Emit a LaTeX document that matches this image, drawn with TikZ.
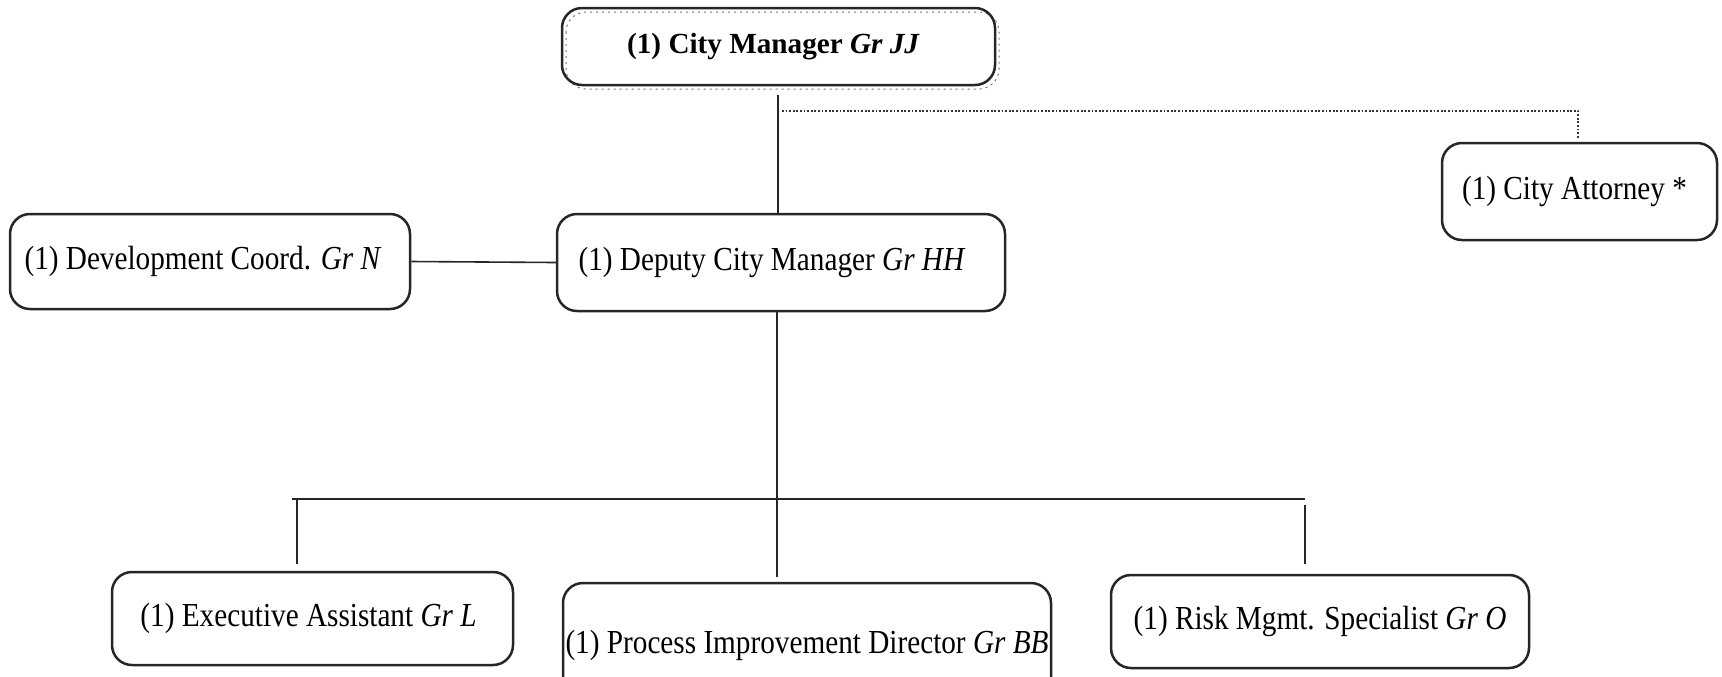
\documentclass[tikz,border=0pt]{standalone}
\usepackage{fontspec}
\setmainfont{Liberation Serif}
\newfontfamily\narrowfont[FakeStretch=0.87]{Liberation Serif}
\usetikzlibrary{calc}
\begin{document}
\begin{tikzpicture}[x=0.5pt,y=-0.5pt,
  box/.style={draw=black!85, line width=1.25pt, rounded corners=10pt,
    inner sep=0pt, align=center,
    font=\narrowfont\fontsize{16.8}{20}\selectfont},
  conn/.style={draw=black!85, line width=0.8pt},
  dotconn/.style={draw=black!80, line width=0.7pt, dash pattern=on 0.9pt off 0.9pt}]
\clip (0,0) rectangle (1722,676);

% faint second outline around the top box
\draw[black!55, line width=0.5pt, dash pattern=on 1pt off 2pt, rounded corners=10pt]
  (566,12) rectangle (999,89);

% positions
\node[box, minimum width=216.5pt, minimum height=38.5pt,
  font=\rmfamily\bfseries\fontsize{14.6}{18}\selectfont]
  (cm) at (778.5,46.5) {\raisebox{-3pt}{(1) City Manager \textit{Gr JJ}}\hspace*{5pt}};
\node[box, minimum width=224pt, minimum height=48.5pt]
  (dep) at (781,262.5) {(1) Deputy City Manager \textit{Gr HH}\hspace*{9pt}};
\node[box, minimum width=200pt, minimum height=47.5pt]
  (dev) at (210,261.5) {(1) Development Coord. \textit{Gr N}\hspace*{7pt}};
\node[box, minimum width=137.5pt, minimum height=48.5pt]
  (att) at (1579.5,191.5) {(1) City Attorney *\hspace*{5pt}};
\node[box, minimum width=200.5pt, minimum height=46.5pt]
  (exe) at (312.5,618.5) {\raisebox{-4.5pt}{(1) Executive Assistant \textit{Gr L}}\hspace*{4pt}};
\node[box, minimum width=244pt, minimum height=62pt]
  (pro) at (807,645) {(1) Process Improvement Director \textit{Gr BB}};
\node[box, minimum width=209pt, minimum height=46.5pt]
  (risk) at (1320,621.5) {\raisebox{-4pt}{(1) Risk Mgmt. Specialist \textit{Gr O}}};

% junction points of the connectors
\coordinate (cmdrop) at (778,95);
\coordinate (dotL) at (782,111);
\coordinate (dotR) at (1578,111);
\coordinate (busL) at (292,499);
\coordinate (busC) at (777,499);
\coordinate (busR) at (1305,499);

% connectors
\draw[conn] (cmdrop) -- (cmdrop |- dep.north);
\draw[dotconn] (dotL) -- (dotR) -- ($(dotR |- att.north)+(0,-3)$);
\draw[conn] (dev.east) -- (dep.west);
\draw[conn] (busC |- dep.south) -- (busC);
\draw[conn] (busL) -- (busR);
\draw[conn] (297,499) -- ($(297,0 |- exe.north)+(0,-7)$);
\draw[conn] (busC) -- ($(busC |- pro.north)+(0,-5)$);
\draw[conn] ($(busR)+(0,6)$) -- ($(busR |- risk.north)+(0,-10)$);
\end{tikzpicture}
\end{document}
